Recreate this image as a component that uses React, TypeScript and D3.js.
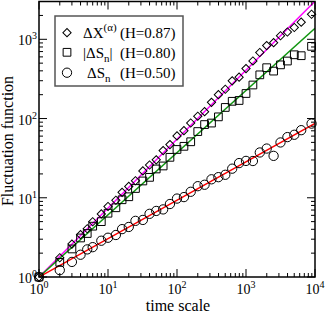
import * as d3 from 'd3';

// time scales (same for all three series)
const xs = [1, 2, 3, 4, 5, 6, 8, 10, 13, 16, 20, 25, 32, 40, 50, 63, 79, 100, 126, 158, 200, 251, 316, 398, 501, 631, 794, 1000, 1259, 1585, 1995, 2512, 3162, 3981, 5012, 6310, 8913];

// ΔX^(α)
const dXalpha = [1, 1.75, 2.6, 3.42, 4.06, 4.98, 6.25, 7.76, 9.31, 11.7, 13.9, 16.4, 21.8, 25.9, 30.1, 39.4, 46.9, 60.3, 70.3, 87.9, 107, 122, 160, 200, 234, 299, 333, 427, 533, 682, 834, 908, 1109, 1236, 1409, 1644, 2073];
// |ΔS_n|
const absDS = [1, 1.53, 2.26, 3.11, 3.54, 4.38, 5.0, 6.38, 7.48, 9.44, 10.3, 13.1, 16.3, 18.1, 23.1, 25.2, 32.4, 40.7, 44.6, 50.9, 68.5, 83.9, 87.7, 105, 138, 165, 169, 207, 265, 356, 438, 397, 476, 532, 638, 621, 815];
// ΔS_n
const dS = [1, 1.22, 1.55, 1.91, 2.23, 2.38, 2.87, 3.13, 3.39, 4.02, 4.28, 5.11, 5.25, 6.27, 6.82, 7.13, 8.34, 9.77, 10.2, 11.9, 14.0, 14.6, 17.1, 18.2, 19.5, 23.3, 27.4, 29.2, 29.1, 37.3, 41.8, 33.8, 49.9, 58.3, 62.4, 71.3, 86.3];

const hurstLabels = ['0.87', '0.80', '0.50'];
const fitSlopes = [0.87, 0.785, 0.485];
const fitColors = ['#ff00ff', '#119611', '#ff0000'];
const fitRange = [1, 10000];
const yMajor = [1, 10, 100, 1000];
const xMajor = [1, 10, 100, 1000, 10000];

const W = 327;
const H = 314;
const L = 39, R = 315, T = 1.5, B = 277;
const font = '"Liberation Serif", "Times New Roman", serif';

const x = d3.scaleLog().domain([1, 10000]).range([L, R]);
const y = d3.scaleLog().domain([1, 3000]).range([B, T]);

const diamond = d3.symbol().type(d3.symbolSquare).size(34)()!;
const square = d3.symbol().type(d3.symbolSquare).size(60)()!;
const circle = d3.symbol().type(d3.symbolCircle).size(68)()!;

const Marker = ({ kind, cx, cy }: { kind: number; cx: number; cy: number }) => {
  if (kind === 0) return <path d={diamond} transform={`translate(${cx},${cy}) rotate(45)`} fill="none" stroke="#000" strokeWidth={1} />;
  if (kind === 1) return <path d={square} transform={`translate(${cx},${cy})`} fill="none" stroke="#000" strokeWidth={1} />;
  return <path d={circle} transform={`translate(${cx},${cy})`} fill="none" stroke="#000" strokeWidth={1} />;
};

export default function App() {
  const series = [dXalpha, absDS, dS];
  const xTicks = x.ticks();
  const yTicks = y.ticks();
  const isMajor = (v: number) => Math.abs(Math.log10(v) - Math.round(Math.log10(v))) < 1e-9;

  return (
    <svg width={W} height={H} style={{ position: 'absolute', left: 0, top: 0 }} fontFamily={font}>
      <defs>
        <clipPath id="plot"><rect x={L} y={T} width={R - L} height={B - T} /></clipPath>
      </defs>

      {/* fit lines */}
      <g clipPath="url(#plot)">
        {fitSlopes.map((s, k) => {
          const pts = fitRange.map(v => [x(v), y(Math.pow(v, s))] as [number, number]);
          return <path key={k} d={d3.line()(pts)!} stroke={fitColors[k]} strokeWidth={1.5} fill="none" />;
        })}
      </g>

      {/* data points */}
      {series.map((arr, k) => (
        <g key={k}>
          {arr.map((v, i) => <Marker key={i} kind={k} cx={x(xs[i])} cy={y(v)} />)}
        </g>
      ))}

      {/* frame */}
      <rect x={L} y={T} width={R - L} height={B - T} fill="none" stroke="#000" strokeWidth={1.5} />

      {/* ticks, inward on all sides */}
      {xTicks.map((t, i) => {
        const len = isMajor(t) ? 8 : 4;
        return (
          <g key={i} stroke="#000" strokeWidth={1}>
            <line x1={x(t)} x2={x(t)} y1={B} y2={B - len} />
            <line x1={x(t)} x2={x(t)} y1={T} y2={T + len} />
          </g>
        );
      })}
      {yTicks.map((t, i) => {
        const len = isMajor(t) ? 8 : 4;
        return (
          <g key={i} stroke="#000" strokeWidth={1}>
            <line x1={L} x2={L + len} y1={y(t)} y2={y(t)} />
            <line x1={R} x2={R - len} y1={y(t)} y2={y(t)} />
          </g>
        );
      })}

      {/* tick labels */}
      {xMajor.map((t, i) => (
        <text key={i} x={x(t)} y={293.5} textAnchor="middle" fontSize={14}>
          10<tspan dy={-6} fontSize={10}>{Math.round(Math.log10(t))}</tspan>
        </text>
      ))}
      {yMajor.map((t, i) => (
        <text key={i} x={37} y={y(t) + 6} textAnchor="end" fontSize={14}>
          10<tspan dy={-6} fontSize={10}>{Math.round(Math.log10(t))}</tspan>
        </text>
      ))}

      {/* axis titles */}
      <text x={178} y={311} textAnchor="middle" fontSize={16}>time scale</text>
      <text transform={`translate(13,141) rotate(-90)`} textAnchor="middle" fontSize={16}>Fluctuation function</text>

      {/* legend */}
      <rect x={55} y={16} width={128} height={70} fill="#fff" stroke="#555" strokeWidth={1.5} />
      <Marker kind={0} cx={67} cy={32.7} />
      <Marker kind={1} cx={67} cy={52.3} />
      <Marker kind={2} cx={67} cy={72.7} />
      <g fontSize={15}>
        <text x={83} y={38}>ΔX<tspan dy={-7} fontSize={11}>(α)</tspan></text>
        <text x={120} y={38}>(H={hurstLabels[0]})</text>
        <text x={83} y={58}>|ΔS<tspan dy={4} fontSize={11}>n</tspan><tspan dy={-4}>|</tspan></text>
        <text x={120} y={58}>(H={hurstLabels[1]})</text>
        <text x={87} y={78}>ΔS<tspan dy={4} fontSize={11}>n</tspan></text>
        <text x={120} y={78}>(H={hurstLabels[2]})</text>
      </g>
    </svg>
  );
}
